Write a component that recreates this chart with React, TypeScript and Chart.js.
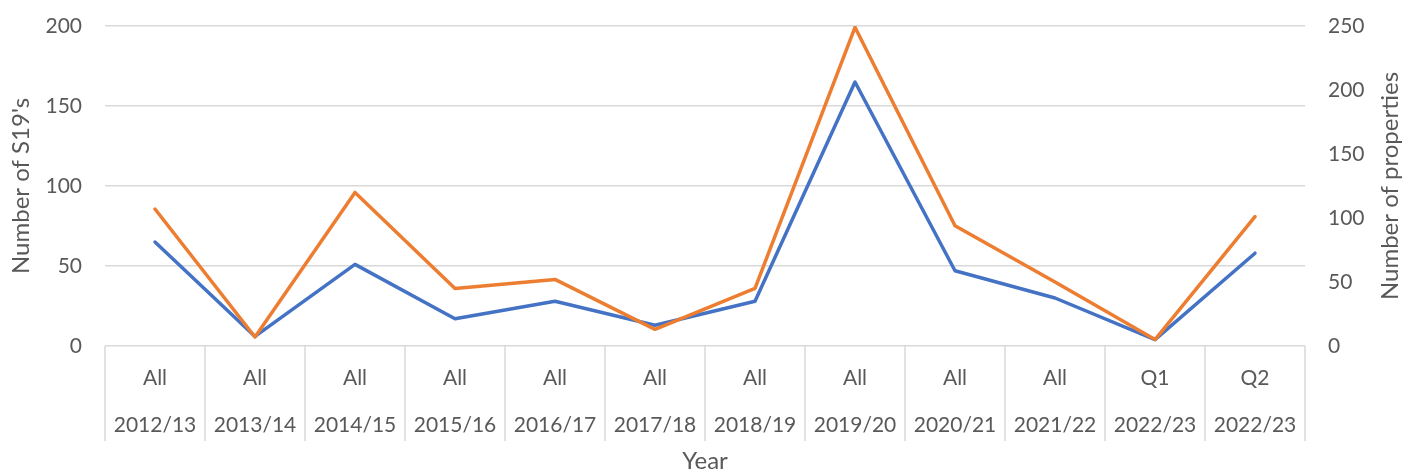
import React, { useEffect, useRef } from "react";
import { Chart, registerables } from "chart.js";

Chart.register(...registerables);

const years = ["2012/13", "2013/14", "2014/15", "2015/16", "2016/17", "2017/18", "2018/19", "2019/20", "2020/21", "2021/22", "2022/23", "2022/23"];
const periods = ["All", "All", "All", "All", "All", "All", "All", "All", "All", "All", "Q1", "Q2"];
const s19Counts = [65, 6, 51, 17, 28, 13, 28, 165, 47, 30, 4, 58];
const propertyCounts = [107, 7, 120, 45, 52, 13, 45, 249, 94, 50, 5, 101];

const leftAxisTitle = "Number of S19's";
const rightAxisTitle = "Number of properties";
const xAxisTitle = "Year";

const FONT = "Lato";
const TEXT = "#595959";
const GRID = "#d9d9d9";
const TITLE_SIZE = 24;

const separatorPlugin = {
  id: "separators",
  afterDraw(chart: any) {
    const x = chart.scales.x;
    const ctx = chart.ctx;
    const n = chart.data.labels.length;
    const half = (x.getPixelForValue(1) - x.getPixelForValue(0)) / 2;
    const bottom = chart.chartArea.bottom;
    ctx.save();
    ctx.strokeStyle = GRID;
    ctx.lineWidth = 1.5;
    for (let i = 0; i <= n; i++) {
      const px = i < n ? x.getPixelForValue(i) - half : x.getPixelForValue(n - 1) + half;
      ctx.beginPath();
      ctx.moveTo(px, bottom);
      ctx.lineTo(px, bottom + 95);
      ctx.stroke();
    }
    // right axis title, reading bottom-to-top
    const y1 = chart.scales.y1;
    ctx.fillStyle = TEXT;
    ctx.font = `${TITLE_SIZE}px ${FONT}`;
    ctx.textAlign = "center";
    ctx.textBaseline = "middle";
    ctx.translate(1390, (y1.top + y1.bottom) / 2);
    ctx.rotate(-Math.PI / 2);
    ctx.fillText(rightAxisTitle, 0, 0);
    ctx.restore();
  },
};

export default function App() {
  const ref = useRef<HTMLCanvasElement>(null);
  useEffect(() => {
    document.body.style.margin = "0";
    const labels = years.map((y, i) => [periods[i], y]);
    const chart = new Chart(ref.current!, {
      type: "line",
      data: {
        labels,
        datasets: [
          {
            label: "Number of properties",
            data: propertyCounts,
            yAxisID: "y1",
            borderColor: "#ED7D31",
            backgroundColor: "#ED7D31",
            borderWidth: 3.5,
            pointRadius: 0,
            borderJoinStyle: "round",
            borderCapStyle: "round",
            tension: 0,
            order: 0,
          },
          {
            label: "Number of S19's",
            data: s19Counts,
            yAxisID: "y",
            borderColor: "#4472C4",
            backgroundColor: "#4472C4",
            borderWidth: 3.5,
            pointRadius: 0,
            borderJoinStyle: "round",
            borderCapStyle: "round",
            tension: 0,
            order: 1,
          },
        ],
      },
      options: {
        responsive: false,
        animation: false,
        layout: { padding: { top: 26, left: 0, right: 0, bottom: 0 } },
        plugins: { legend: { display: false }, tooltip: { enabled: false } },
        scales: {
          x: {
            offset: true,
            grid: { display: false },
            border: { display: false },
            ticks: {
              color: TEXT,
              font: { family: FONT, size: 21, lineHeight: 2.24 },
              maxRotation: 0,
              autoSkip: false,
              padding: 1,
            },
            title: {
              display: true,
              text: xAxisTitle,
              color: TEXT,
              font: { family: FONT, size: TITLE_SIZE, lineHeight: 1 },
              padding: 0,
            },
            afterFit(scale: any) {
              scale.height = 127;
            },
          },
          y: {
            position: "left",
            min: 0,
            max: 200,
            ticks: { stepSize: 50, color: TEXT, font: { family: FONT, size: 21 }, padding: 23 },
            grid: { color: GRID, lineWidth: 1.5, drawTicks: false },
            border: { display: false },
            title: {
              display: true,
              text: leftAxisTitle,
              color: TEXT,
              font: { family: FONT, size: TITLE_SIZE },
              padding: { top: 7, bottom: 0 },
            },
            afterFit(scale: any) {
              scale.width = 105;
              scale.paddingTop = 0;
              scale.paddingBottom = 0;
            },
          },
          y1: {
            position: "right",
            min: 0,
            max: 250,
            ticks: { stepSize: 50, color: TEXT, font: { family: FONT, size: 21 }, padding: 23 },
            grid: { display: false, drawTicks: false },
            border: { display: false },
            afterFit(scale: any) {
              scale.width = 98;
              scale.paddingTop = 0;
              scale.paddingBottom = 0;
            },
          },
        },
      },
      plugins: [separatorPlugin],
    });
    return () => chart.destroy();
  }, []);
  return (
    <div style={{ position: "absolute", left: 0, top: 0, width: 1403, height: 473 }}>
      <canvas ref={ref} width={1403} height={473} />
    </div>
  );
}
